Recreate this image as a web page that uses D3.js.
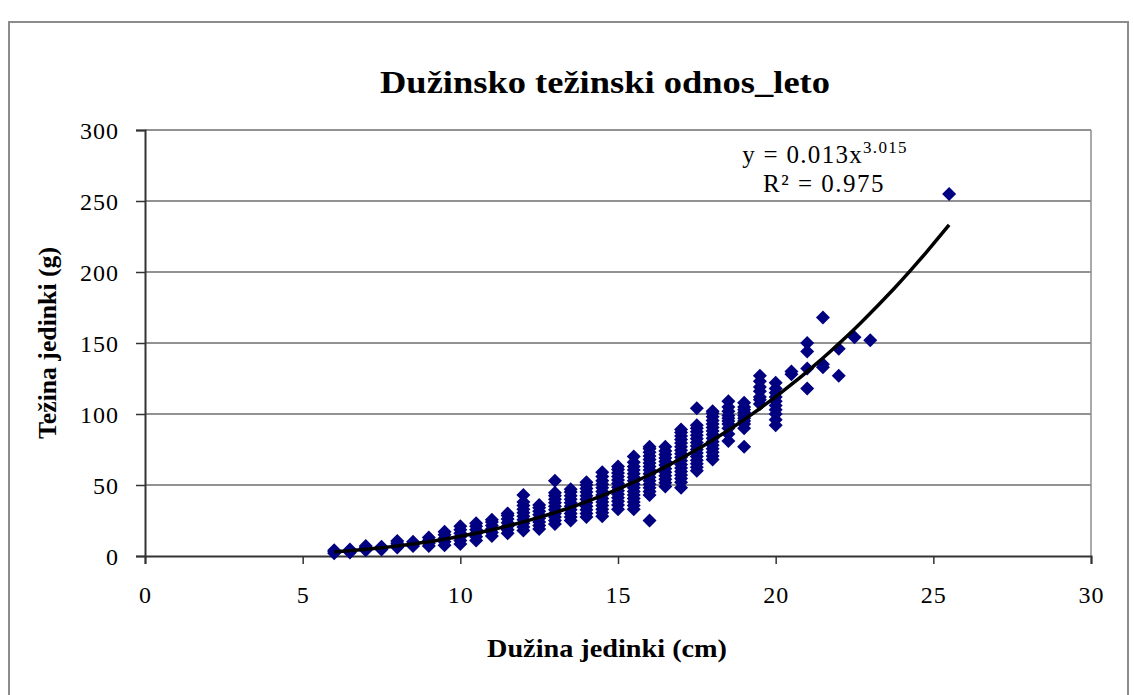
<!DOCTYPE html>
<html>
<head>
<meta charset="utf-8">
<script src="https://cdn.jsdelivr.net/npm/d3@7"></script>
<style>
  body { margin: 0; background: #fff; }
  text { font-family: "Liberation Serif", "Times New Roman", serif; }
</style>
</head>
<body>
<svg id="chart"></svg>
<script>
(function() {

    // length classes (cm) and the weights (g)
    const lengths = [6, 6.5, 7, 7.5, 8, 8.5, 9, 9.5, 10, 10.5, 11, 11.5, 12, 12.5, 13, 13.5, 14, 14.5, 15, 15.5,
        16, 16.5, 17, 17.5, 18, 18.5, 19, 19.5, 20, 20.5, 21, 21.5, 22, 22.5, 23, 25.5];

    const weights = [
        [2, 3, 4],
        [2.5, 3.5, 4.5],
        [4, 5, 6, 7],
        [4.5, 5.5, 6.5],
        [6, 7.5, 9, 10.5],
        [7, 8.5, 10],
        [7, 9, 11, 13],
        [7.5, 10, 12.5, 15, 17],
        [8.5, 11, 13.5, 16, 18.5, 21],
        [11, 13.5, 16, 18.5, 21, 23],
        [14, 16.5, 19, 21.5, 24, 25.5],
        [16, 18.5, 21, 23.5, 26, 28.5, 30],
        [18, 20.5, 23, 25.5, 28, 30.5, 33, 35.5, 38, 43],
        [19, 21.5, 24, 26.5, 29, 31.5, 34, 36],
        [22.5, 25, 27.5, 30, 32.5, 35, 37.5, 40, 42.5, 44.5, 53],
        [25, 27.5, 30, 32.5, 35, 37.5, 40, 42.5, 45, 47],
        [27.5, 30, 32.5, 35, 37.5, 40, 42.5, 45, 47.5, 50, 52],
        [28, 30.5, 33, 35.5, 38, 40.5, 43, 45.5, 48, 50.5, 53, 56, 59],
        [33, 36, 38.5, 41, 43.5, 46, 48.5, 51, 53.5, 56, 58.5, 61, 63],
        [33, 35.5, 38, 40.5, 43, 45.5, 48, 50.5, 53, 55.5, 58, 60.5, 63, 66, 70],
        [25, 43, 45.5, 48, 50.5, 53, 55.5, 58, 60.5, 63, 65.5, 68, 70.5, 73, 75.5, 77],
        [49, 51.5, 54, 56.5, 59, 61.5, 64, 66.5, 69, 71.5, 74, 77],
        [48, 52, 54.5, 57, 59.5, 62, 64.5, 67, 69.5, 72, 74.5, 77, 79.5, 82, 84.5, 87, 89],
        [60, 62.5, 65, 67.5, 70, 72.5, 75, 77.5, 80, 82.5, 85, 87.5, 90, 92, 104],
        [68, 70.5, 73, 75.5, 78, 80.5, 83, 85.5, 88, 90.5, 93, 95.5, 98, 100.5, 102],
        [81, 86, 90, 93, 95, 97, 99, 102, 105, 109],
        [77, 90, 93, 95, 97, 99, 101, 103, 105, 108],
        [107, 110, 112, 116, 119, 123, 127],
        [92, 96, 100, 103, 106, 109, 112, 115, 118, 122],
        [128, 130],
        [118, 132, 144, 150],
        [133, 135, 168],
        [127, 146],
        [154],
        [152],
        [255]
    ];

    const xTicks = [0, 5, 10, 15, 20, 25, 30];
    const yTicks = [0, 50, 100, 150, 200, 250, 300];

    // power trendline y = a * x^b (label shows rounded a)
    const trendA = 0.0134;
    const trendB = 3.015;
    const trendRange = [6, 25.5];

    const titleText = 'Dužinsko težinski odnos_leto';
    const xLabel = 'Dužina jedinki (cm)';
    const yLabel = 'Težina jedinki (g)';

    const points = [];
    lengths.forEach((l, i) => weights[i].forEach(w => points.push({ x: l, y: w })));

    const w = 1134;
    const h = 695;
    const plot = { left: 145, right: 1091, top: 130, bottom: 556 };

    const svg = d3.select('#chart')
        .attr('width', w)
        .attr('height', h);

    svg.append('rect')
        .attr('x', 0).attr('y', 0)
        .attr('width', w).attr('height', h)
        .attr('fill', '#fff');

    // outer chart frame
    svg.append('rect')
        .attr('x', 9).attr('y', 22)
        .attr('width', 1119).attr('height', 720)
        .attr('fill', 'none')
        .attr('stroke', '#8c8c8c')
        .attr('stroke-width', 2);

    const x = d3.scaleLinear().domain([0, 30]).range([plot.left, plot.right]);
    const y = d3.scaleLinear().domain([0, 300]).range([plot.bottom, plot.top]);

    // gridlines
    svg.append('g')
        .selectAll('line')
        .data(yTicks.slice(1))
        .enter()
        .append('line')
        .attr('x1', plot.left).attr('x2', plot.right)
        .attr('y1', d => y(d)).attr('y2', d => y(d))
        .attr('stroke', '#6e6e6e')
        .attr('stroke-width', 1.5);

    // right border of plot area
    svg.append('line')
        .attr('x1', plot.right).attr('x2', plot.right)
        .attr('y1', plot.top).attr('y2', plot.bottom)
        .attr('stroke', '#8c8c8c')
        .attr('stroke-width', 1.5);

    const xAxis = svg.append('g')
        .attr('transform', `translate(0, ${plot.bottom})`)
        .call(d3.axisBottom(x).tickValues(xTicks).tickSize(8).tickPadding(22));

    const yAxis = svg.append('g')
        .attr('transform', `translate(${plot.left}, 0)`)
        .call(d3.axisLeft(y).tickValues(yTicks).tickSize(9).tickPadding(17));

    [xAxis, yAxis].forEach(a => {
        a.select('.domain').attr('stroke', '#333').attr('stroke-width', 2);
        a.selectAll('.tick line').attr('stroke', '#333').attr('stroke-width', 1.5);
        a.selectAll('.tick text')
            .attr('fill', '#000')
            .style('font-family', '"Liberation Serif", serif')
            .style('font-size', '24px')
            .style('letter-spacing', '1px');
    });
    yAxis.selectAll('.tick text').attr('dy', '0.35em');

    // scatter points as square diamonds
    const r = 7;
    svg.append('g')
        .selectAll('path')
        .data(points)
        .enter()
        .append('path')
        .attr('d', `M0,${-r}L${r},0L0,${r}L${-r},0Z`)
        .attr('transform', d => `translate(${x(d.x)}, ${y(d.y)})`)
        .attr('fill', '#000080');

    // trendline
    const trendXs = d3.range(trendRange[0], trendRange[1] + 0.001, 0.25);
    const line = d3.line()
        .x(d => x(d))
        .y(d => y(trendA * Math.pow(d, trendB)))
        .curve(d3.curveMonotoneX);

    svg.append('path')
        .datum(trendXs)
        .attr('d', line)
        .attr('fill', 'none')
        .attr('stroke', '#000')
        .attr('stroke-width', 3.5);

    // title
    svg.append('text')
        .attr('x', 605)
        .attr('y', 93)
        .attr('text-anchor', 'middle')
        .attr('font-weight', 'bold')
        .attr('font-size', 31)
        .attr('textLength', 450)
        .attr('lengthAdjust', 'spacingAndGlyphs')
        .text(titleText);

    // axis titles
    svg.append('text')
        .attr('x', 607)
        .attr('y', 657)
        .attr('text-anchor', 'middle')
        .attr('font-weight', 'bold')
        .attr('font-size', 25)
        .attr('textLength', 240)
        .attr('lengthAdjust', 'spacingAndGlyphs')
        .text(xLabel);

    svg.append('text')
        .attr('transform', `translate(56, ${(plot.top + plot.bottom) / 2}) rotate(-90)`)
        .attr('text-anchor', 'middle')
        .attr('font-weight', 'bold')
        .attr('font-size', 25)
        .attr('textLength', 192)
        .attr('lengthAdjust', 'spacingAndGlyphs')
        .text(yLabel);

    // equation label
    const eq = svg.append('text')
        .attr('x', 825)
        .attr('y', 163)
        .attr('text-anchor', 'middle')
        .attr('font-size', 25)
        .style('letter-spacing', '1.3px');
    eq.append('tspan').text('y = 0.013x');
    eq.append('tspan').attr('dy', -10).attr('font-size', 17).text('3.015');

    svg.append('text')
        .attr('x', 824)
        .attr('y', 192)
        .attr('text-anchor', 'middle')
        .attr('font-size', 25)
        .style('letter-spacing', '1.5px')
        .text('R² = 0.975');

})();
</script>
</body>
</html>
